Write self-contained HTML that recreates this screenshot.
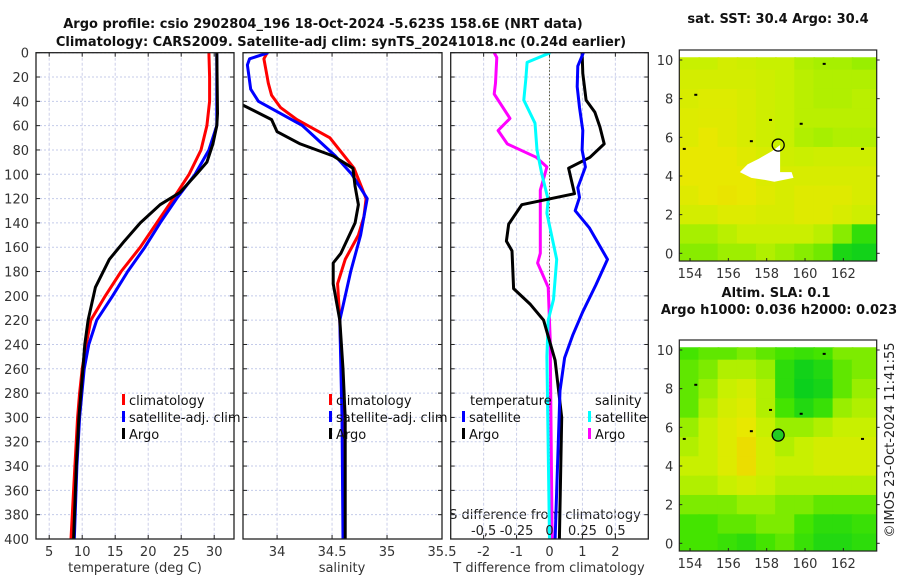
<!DOCTYPE html>
<html><head><meta charset="utf-8"><style>
html,body{margin:0;padding:0;background:#fff;}
svg{display:block;font-family:"DejaVu Sans","Liberation Sans",sans-serif;}
</style></head><body>
<svg id="fig" width="900" height="580" viewBox="0 0 900 580" xmlns="http://www.w3.org/2000/svg">
<text x="323" y="28" font-size="13" font-weight="bold" text-anchor="middle" fill="#111">Argo profile: csio 2902804_196 18-Oct-2024 -5.623S 158.6E (NRT data)</text>
<text x="341" y="46" font-size="13" font-weight="bold" text-anchor="middle" fill="#111">Climatology: CARS2009. Satellite-adj clim: synTS_20241018.nc (0.24d earlier)</text>
<text x="778" y="23" font-size="13" font-weight="bold" text-anchor="middle" fill="#111">sat. SST: 30.4 Argo: 30.4</text>
<text x="776" y="297" font-size="13" font-weight="bold" text-anchor="middle" fill="#111">Altim. SLA: 0.1</text>
<text x="779" y="314" font-size="13" font-weight="bold" text-anchor="middle" fill="#111">Argo h1000: 0.036 h2000: 0.023</text>
<text transform="translate(894,440) rotate(-90)" font-size="13" text-anchor="middle" fill="#222">©IMOS 23-Oct-2024 11:41:55</text>
<text x="135" y="572" font-size="13" text-anchor="middle" fill="#333">temperature (deg C)</text>
<text x="342" y="572" font-size="13" text-anchor="middle" fill="#333">salinity</text>
<text x="549" y="572" font-size="13" text-anchor="middle" fill="#333">T difference from climatology</text>
<text x="545" y="519" font-size="13" text-anchor="middle" fill="#222">S difference from climatology</text>
</svg>
<script>
// ---------- data ----------
const depthTicks = [0,20,40,60,80,100,120,140,160,180,200,220,240,260,280,300,320,340,360,380,400];
const tempTicks = [5,10,15,20,25,30];
const salTicks = [34,34.5,35,35.5];
const salTickLabels = ["34","34.5","35","35.5"];
const tdiffTicks = [-2,-1,0,1,2];
const sdiffTicks = [-0.5,-0.25,0,0.25,0.5];
const sdiffTickLabels = ["-0,5","-0.25","0","0.25","0.5"];

const tClimDepth = [0,20,40,60,80,100,120,140,160,180,200,220,240,260,280,300,340,400];
const tClimVal   = [29.2,29.3,29.3,28.9,28.0,26.2,23.8,21.3,18.8,15.9,13.5,11.3,10.6,10.0,9.6,9.3,8.9,8.3];
const tSatDepth  = [0,20,40,60,80,100,120,140,160,180,200,220,240,260,300,340,400];
const tSatVal    = [30.4,30.4,30.4,30.4,29.2,27.1,24.3,21.8,19.5,16.9,14.6,12.2,11.0,10.3,9.6,9.2,8.8];
const tArgoDepth = [0,50,60,75,90,100,115,125,140,155,170,193,220,240,260,300,340,400];
const tArgoVal   = [30.4,30.5,30.4,29.8,28.9,27.3,24.8,21.8,18.8,16.4,14.1,12.0,10.9,10.4,10.1,9.5,9.1,8.7];

const sClimDepth = [0,5,15,25,35,45,55,70,95,120,135,150,170,190,220,300,400];
const sClimVal   = [33.91,33.88,33.90,33.92,33.95,34.03,34.18,34.48,34.70,34.81,34.79,34.74,34.62,34.55,34.57,34.60,34.61];
const sSatDepth  = [0,5,10,30,40,60,85,100,120,150,180,220,300,400];
const sSatVal    = [33.92,33.75,33.73,33.76,33.83,34.23,34.53,34.68,34.82,34.76,34.67,34.57,34.59,34.60];
const sArgoDepth = [40,55,65,75,85,95,110,125,140,165,173,190,220,260,300,400];
const sArgoVal   = [33.62,33.95,34.00,34.21,34.51,34.69,34.71,34.74,34.71,34.58,34.51,34.51,34.57,34.60,34.62,34.62];

const dTSatDepth = [0,11,28,45,64,80,94,111,119,130,144,170,191,213,232,251,278,400];
const dTSatVal   = [1.03,0.86,0.84,0.91,1.01,0.99,1.09,0.86,0.91,0.78,1.21,1.76,1.41,1.01,0.71,0.46,0.32,0.17];
const dTArgoDepth = [0,17,39,49,61,75,86,95,116,125,141,155,163,194,207,220,253,300,400];
const dTArgoVal   = [0.99,1.01,1.11,1.38,1.53,1.66,1.23,0.58,0.76,-0.84,-1.24,-1.31,-1.14,-1.09,-0.58,-0.18,0.17,0.37,0.30];
const dSSatDepth = [0,8,22,39,58,80,99,121,132,170,203,220,250,400];
const dSSatVal   = [0.005,-0.17,-0.18,-0.195,-0.11,-0.095,-0.06,-0.01,-0.02,0.055,0.03,-0.01,-0.02,0.0];
const dSArgoDepth = [0,4,25,34,54,64,75,86,94,113,165,173,193,236,400];
const dSArgoVal   = [-0.42,-0.40,-0.41,-0.42,-0.30,-0.39,-0.32,-0.10,-0.02,-0.07,-0.07,-0.09,-0.01,0.005,0.02];

const mapLonTicks = [154,156,158,160,162];
const mapLatTicks = [0,2,4,6,8,10];
const sstField = [
 [.55,.55,.6,.58,.55,.55,.5,.48,.48,.45],
 [.6,.6,.6,.6,.58,.55,.52,.5,.5,.5],
 [.62,.65,.65,.62,.58,.55,.52,.5,.5,.52],
 [.65,.66,.66,.62,.58,.55,.52,.52,.52,.52],
 [.65,.7,.66,.62,.58,.55,.5,.48,.5,.5],
 [.7,.7,.7,.66,.62,.58,.56,.58,.58,.58],
 [.7,.7,.7,.7,.64,.62,.62,.62,.62,.62],
 [.66,.7,.72,.7,.66,.62,.66,.66,.66,.62],
 [.6,.6,.65,.65,.62,.62,.66,.66,.62,.58],
 [.48,.48,.52,.56,.56,.56,.56,.52,.42,.22],
 [.42,.42,.46,.46,.5,.46,.42,.38,.12,.08]];
const slaField = [
 [.3,.35,.35,.4,.35,.3,.25,.3,.4,.4],
 [.35,.4,.5,.5,.45,.2,.08,.15,.35,.4],
 [.35,.45,.55,.6,.5,.2,.05,.1,.35,.45],
 [.35,.5,.6,.65,.5,.3,.15,.25,.45,.5],
 [.45,.55,.65,.7,.55,.45,.45,.5,.55,.55],
 [.5,.55,.65,.75,.6,.5,.55,.6,.6,.6],
 [.55,.55,.65,.75,.6,.55,.55,.6,.6,.6],
 [.5,.5,.55,.6,.55,.5,.5,.5,.5,.5],
 [.4,.4,.4,.45,.45,.4,.4,.35,.35,.35],
 [.3,.3,.35,.35,.4,.4,.3,.2,.2,.25],
 [.3,.3,.25,.2,.3,.35,.25,.15,.15,.2]];
const fieldLat0 = 10;   // first row latitude
const fieldLon0 = 154;  // first column longitude
const argoLon = 158.6, argoLat = 5.6;

// ---------- helpers ----------
const NS = "http://www.w3.org/2000/svg";
const svg = document.getElementById('fig');
function mk(tag, attrs, parent){ const e=document.createElementNS(NS,tag); for(const k in attrs) e.setAttribute(k,attrs[k]); (parent||svg).appendChild(e); return e; }

const Y0 = 52.7, Y1 = 539;
function yDepth(d){ return Y0 + d/400*(Y1-Y0); }

function panel(name, x0, x1, xmin, xmax, xticks, xlabels, showYLabels){
  const xs = v => x0 + (v-xmin)/(xmax-xmin)*(x1-x0);
  const g = mk('g',{});
  
  
  depthTicks.forEach(d=>{
    const gl = mk('line',{x1:x0,x2:x1,y1:yDepth(d),y2:yDepth(d),stroke:'#c4cbea','stroke-width':1,'stroke-dasharray':'2,2'},g);
    
    
    mk('line',{x1:x0,x2:x0+4,y1:yDepth(d),y2:yDepth(d),stroke:'#222'},g);
    mk('line',{x1:x1-4,x2:x1,y1:yDepth(d),y2:yDepth(d),stroke:'#222'},g);
    if(showYLabels){
      const t = mk('text',{x:x0-7,y:yDepth(d)+5,'font-size':13,'text-anchor':'end',fill:'#333'},g);
      t.textContent = d;
      
      
    }
  });
  xticks.forEach((v,i)=>{
    const gl = mk('line',{x1:xs(v),x2:xs(v),y1:Y0,y2:Y1,stroke:'#ccd0ea','stroke-width':1,'stroke-dasharray':'3,2'},g);
    
    
    mk('line',{x1:xs(v),x2:xs(v),y1:Y1-4,y2:Y1,stroke:'#222'},g);
    mk('line',{x1:xs(v),x2:xs(v),y1:Y0,y2:Y0+4,stroke:'#222'},g);
    const t = mk('text',{x:xs(v),y:556,'font-size':13,'text-anchor':'middle',fill:'#333'},g);
    t.textContent = xlabels ? xlabels[i] : v;
    
    
  });
  return {xs, g, x0, x1};
}
function frame(p, name){
  const r = mk('rect',{x:p.x0,y:Y0,width:p.x1-p.x0,height:Y1-Y0,fill:'none',stroke:'#222','stroke-width':1.3});
  
  
}
function clipFor(id,p){
  const cp = mk('clipPath',{id:id});
  mk('rect',{x:p.x0,y:Y0,width:p.x1-p.x0,height:Y1-Y0},cp);
}
function series(p, depths, vals, color, name, clip, w){
  const pts = depths.map((d,i)=> p.xs(vals[i]).toFixed(1)+','+yDepth(d).toFixed(1)).join(' ');
  const pl = mk('polyline',{points:pts,fill:'none',stroke:color,'stroke-width':w||3,'stroke-linejoin':'round','clip-path':'url(#'+clip+')'});
  
  
}
function legendItem(x,y,color,label,name,clip){
  const g = mk('g',clip?{'clip-path':'url(#'+clip+')'}:{});
  
  
  mk('rect',{x:x,y:y-11,width:3,height:11,fill:color},g);
  const t = mk('text',{x:x+7,y:y,'font-size':13,fill:'#111'},g);
  t.textContent = label;
}

// ---------- panel 1: temperature ----------
const p1 = panel('temperature-panel',36,234,3,33,tempTicks,null,true);
clipFor('c1',p1);
series(p1,tClimDepth,tClimVal,'#ff0000','temperature-climatology-line','c1');
series(p1,tSatDepth,tSatVal,'#0000ff','temperature-satellite-line','c1');
series(p1,tArgoDepth,tArgoVal,'#000000','temperature-argo-line','c1');
frame(p1,'temperature-axes-frame');
legendItem(122,405,'#ff0000','climatology','legend-climatology');
legendItem(122,422,'#0000ff','satellite-adj. clim','legend-satellite-adj');
legendItem(122,439,'#000000','Argo','legend-argo');

// ---------- panel 2: salinity ----------
const p2 = panel('salinity-panel',243,442,33.69,35.5,salTicks,salTickLabels,false);
clipFor('c2',p2);
series(p2,sClimDepth,sClimVal,'#ff0000','salinity-climatology-line','c2');
series(p2,sSatDepth,sSatVal,'#0000ff','salinity-satellite-line','c2');
series(p2,sArgoDepth,sArgoVal,'#000000','salinity-argo-line','c2');
frame(p2,'salinity-axes-frame');
const cpl = mk('clipPath',{id:'cl2'}); mk('rect',{x:243,y:0,width:207,height:580},cpl);
legendItem(329,405,'#ff0000','climatology','legend-s-climatology','cl2');
legendItem(329,422,'#0000ff','satellite-adj. clim','legend-s-satellite-adj','cl2');
legendItem(329,439,'#000000','Argo','legend-s-argo','cl2');

// ---------- panel 3: differences ----------
const p3 = panel('difference-panel',450.7,648.3,-3,3,tdiffTicks,null,false);
clipFor('c3',p3);
const zl = mk('line',{x1:p3.xs(0),x2:p3.xs(0),y1:Y0,y2:Y1,stroke:'#555533','stroke-width':1,'stroke-dasharray':'1.5,2'});


const xsS = { xs: v => p3.xs(v*4) };
series(xsS,dSArgoDepth,dSArgoVal,'#ff00ff','salinity-diff-argo-line','c3');
series(xsS,dSSatDepth,dSSatVal,'#00ffff','salinity-diff-satellite-line','c3');
series(p3,dTArgoDepth,dTArgoVal,'#000000','temperature-diff-argo-line','c3');
series(p3,dTSatDepth,dTSatVal,'#0000ff','temperature-diff-satellite-line','c3');
frame(p3,'difference-axes-frame');
sdiffTicks.forEach((v,i)=>{
  const t = mk('text',{x:xsS.xs(v),y:535,'font-size':13,'text-anchor':'middle',fill:'#222'});
  t.textContent = sdiffTickLabels[i];
  
  
});
const lt1 = mk('text',{x:470,y:405,'font-size':13,fill:'#111'}); lt1.textContent='temperature';


const lt2 = mk('text',{x:595,y:405,'font-size':13,fill:'#111'}); lt2.textContent='salinity';


legendItem(462,422,'#0000ff','satellite','legend-t-satellite');
legendItem(462,439,'#000000','Argo','legend-t-argo');
legendItem(588,422,'#00ffff','satellite','legend-s-satellite');
legendItem(588,439,'#ff00ff','Argo','legend-s-argo');

// ---------- maps ----------
const cmapStops = [[0,[0,204,34]],[0.3,[68,228,0]],[0.45,[153,238,0]],[0.55,[200,240,0]],[0.7,[232,232,0]],[0.85,[240,200,0]]];
function cmap(v){
  for(let i=1;i<cmapStops.length;i++){
    if(v<=cmapStops[i][0]){
      const a=cmapStops[i-1],b=cmapStops[i],t=(v-a[0])/(b[0]-a[0]);
      return 'rgb('+a[1].map((c,j)=>Math.round(c+(b[1][j]-c)*t)).join(',')+')';
    }
  }
  return 'rgb(240,200,0)';
}
function drawMap(name, field, top, dataTop, lat10y, lat0y, filledMarker, whitePatch){
  const L0=679.3, L1=876.7, lonMin=153.44, lonMax=163.74;
  const xs = lon => L0 + (lon-lonMin)/(lonMax-lonMin)*(L1-L0);
  const ys = lat => lat0y + (lat10y-lat0y)*lat/10;
  const bottom = ys(-0.4);
  const g = mk('g',{});
  
  
  const cid = name+'-clip';
  const cp = mk('clipPath',{id:cid}); mk('rect',{x:L0,y:dataTop,width:L1-L0,height:bottom-dataTop},cp);
  const cg = mk('g',{'clip-path':'url(#'+cid+')'},g);
  field.forEach((row,r)=>{
    row.forEach((v,c)=>{
      const lat = fieldLat0 - r, lon = fieldLon0 + c;
      const x0 = xs(lon-0.56-(c===0?1:0)), x1 = xs(lon+0.5+(c===row.length-1?1:0));
      const y0 = ys(lat+0.5), y1 = ys(lat-0.5-(r===field.length-1?1:0));
      const cell = mk('rect',{x:x0,y:y0,width:x1-x0+0.5,height:y1-y0+0.5,fill:cmap(v)},cg);
      
      
    });
  });
  if(whitePatch){
    const wp = mk('polygon',{points:[[157.2,3.9],[157.9,3.8],[158.4,3.7],[159.4,3.9],[159.3,4.2],[158.7,4.2],[158.7,5.6],[158.3,5.3],[157.6,4.9],[157.0,4.6],[156.6,4.2]].map(p=>xs(p[0])+','+ys(p[1])).join(' '),fill:'#fff'},cg);
    
    
  }
  const fr = mk('rect',{x:L0,y:top,width:L1-L0,height:bottom-top,fill:'none',stroke:'#222','stroke-width':1.2},g);
  
  
  mapLonTicks.forEach(lon=>{
    mk('line',{x1:xs(lon),x2:xs(lon),y1:bottom,y2:bottom-3,stroke:'#222'},g);
    const t = mk('text',{x:xs(lon),y:bottom+17,'font-size':13,'text-anchor':'middle',fill:'#333'},g);
    t.textContent = lon;
    
    
  });
  mapLatTicks.forEach(lat=>{
    mk('line',{x1:L0,x2:L0+3,y1:ys(lat),y2:ys(lat),stroke:'#222'},g);
    mk('line',{x1:L1,x2:L1+3,y1:ys(lat),y2:ys(lat),stroke:'#222'},g);
    const t = mk('text',{x:L0-6,y:ys(lat)+5,'font-size':13,'text-anchor':'end',fill:'#333'},g);
    t.textContent = lat;
    
    
  });
  [[154.3,8.2],[158.2,6.9],[159.8,6.7],[163.0,5.4],[153.7,5.4],[157.2,5.8],[161.0,9.8]].forEach(p=>{
    mk('rect',{x:xs(p[0])-1.5,y:ys(p[1])-1,width:3,height:2,fill:'#000'},cg);
  });
  const mkr = mk('circle',{cx:xs(argoLon),cy:ys(argoLat),r:6,fill:filledMarker?'#22cc22':'none',stroke:'#000','stroke-width':1.3},g);
  
  
}
drawMap('sst-map',sstField,50,57.3,60,253.3,false,true);
drawMap('sla-map',slaField,340,347.3,350,543.3,true,false);
</script>
</body></html>
